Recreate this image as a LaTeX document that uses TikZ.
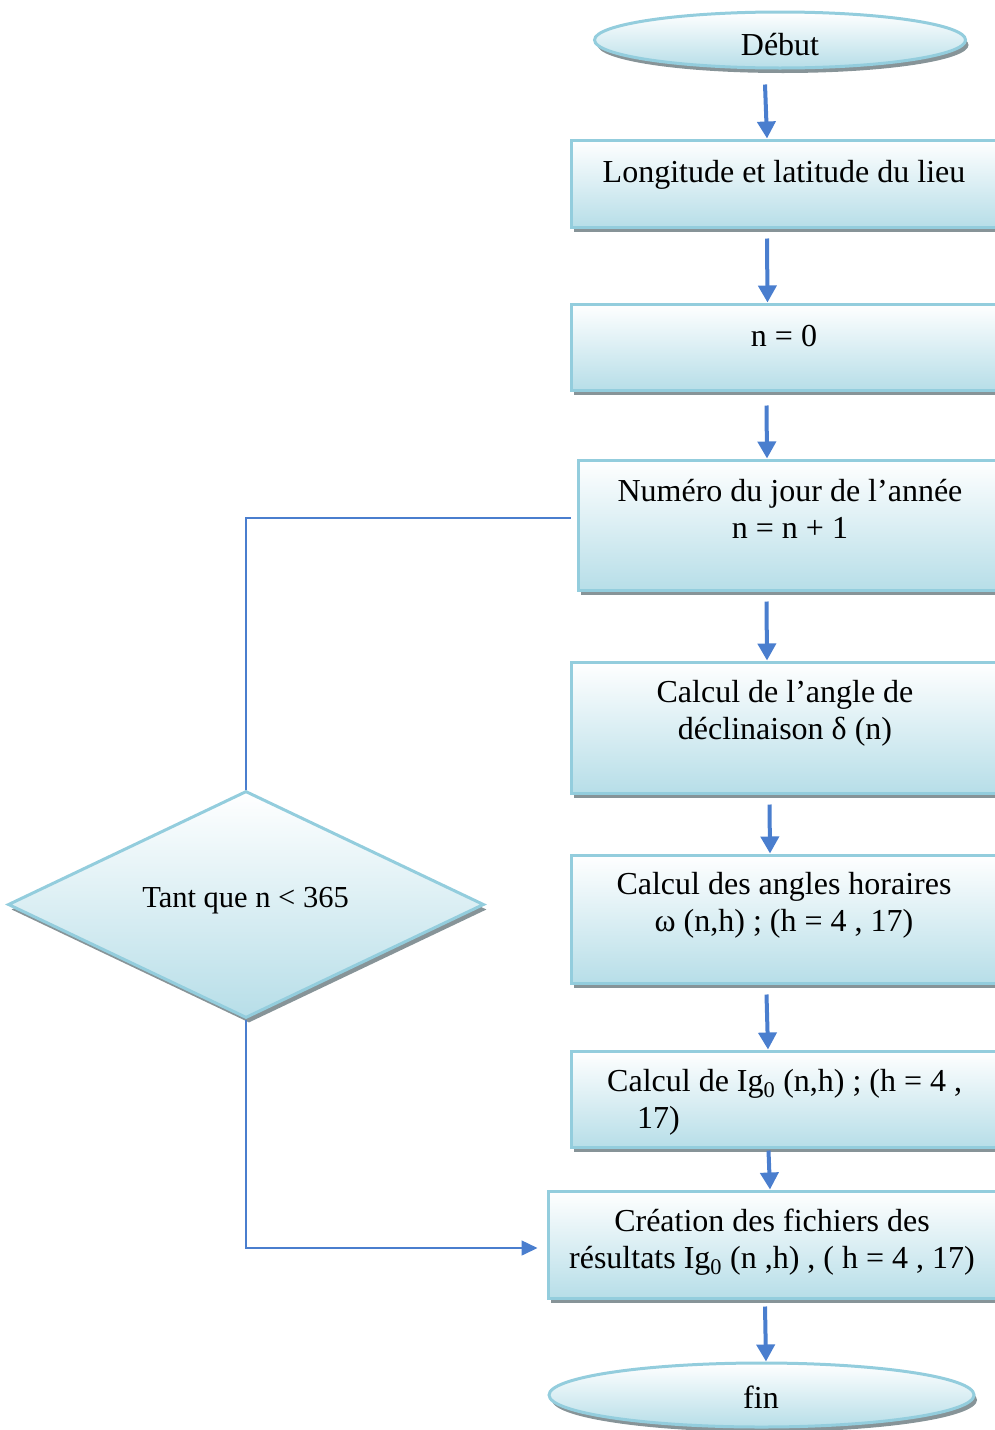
\documentclass[tikz,border=0pt]{standalone}
\usepackage{fontspec}
\setmainfont{Liberation Serif}
\usetikzlibrary{shapes.geometric,arrows.meta,shadows,calc}
\definecolor{bord}{RGB}{147,205,221}
\definecolor{fillb}{RGB}{183,222,232}
\definecolor{arr}{RGB}{74,126,206}
\definecolor{shad}{RGB}{135,148,152}
\begin{document}
\begin{tikzpicture}[x=1pt,y=-1pt,
  shapebase/.style={draw=bord, line width=3pt, top color=white, bottom color=fillb,
    drop shadow={shadow xshift=3pt, shadow yshift=-5pt, fill=shad, opacity=1}},
  procbox/.style={shapebase, rectangle, inner sep=0pt},
  term/.style={shapebase, ellipse, inner sep=0pt},
  decision/.style={shapebase, diamond, inner sep=0pt},
  txt/.style={font=\fontsize{32}{37}\selectfont, inner sep=0pt, align=center},
  flow/.style={draw=arr, line width=4pt, -{Triangle[length=17pt,width=18pt]}},
  loopline/.style={draw=arr, line width=1.5pt},
]
\useasboundingbox (0,0) rectangle (995,1430);
\clip (0,0) rectangle (995,1430);

% shapes
\node[term, minimum width=371pt, minimum height=56pt] (start) at (780,40) {};
\node[procbox, minimum width=425pt, minimum height=87pt] (b1) at (783.5,183.5) {};
\node[procbox, minimum width=425pt, minimum height=86pt] (b2) at (783.5,347) {};
\node[procbox, minimum width=418pt, minimum height=130pt] (b3) at (787,525) {};
\node[procbox, minimum width=425pt, minimum height=131pt] (b4) at (783.5,727.5) {};
\node[procbox, minimum width=425pt, minimum height=128pt] (b5) at (783.5,919) {};
\node[procbox, minimum width=425pt, minimum height=96pt] (b6) at (783.5,1099) {};
\node[procbox, minimum width=448pt, minimum height=107pt] (b7) at (772,1244.5) {};
\node[term, minimum width=425pt, minimum height=64pt] (fin) at (761.5,1395) {};
\node[decision, minimum width=476pt, minimum height=227pt] (d) at (246,904.5) {};

% texts (anchor=base is the baseline of the last line)
\node[txt, anchor=base] (t0) at (780,55) {Début};
\node[txt, anchor=base] (t1) at (784,182) {Longitude et latitude du lieu};
\node[txt, anchor=base] (t2) at (784,346) {n = 0};
\node[txt, anchor=base] (t3) at (790,538) {Numéro du jour de l’année\\n = n + 1};
\node[txt, anchor=base] (t4) at (785,739) {Calcul de l’angle de\\déclinaison δ (n)};
\node[txt, anchor=base] (t5) at (784,931) {Calcul des angles horaires\\ω (n,h) ; (h = 4 , 17)};
\node[txt, anchor=base west, align=left] (t6) at (607,1128) {Calcul de Ig\textsubscript{0} (n,h) ; (h = 4 ,\\\hspace*{30pt}17)};
\node[txt, anchor=base] (t7) at (772,1268) {Création des fichiers des\\résultats Ig\textsubscript{0} (n ,h) , ( h = 4 , 17)};
\node[txt, anchor=base] (t8) at (761,1408) {fin};
\node[txt, anchor=base, font=\fontsize{30.5}{36}\selectfont] (t9) at (245.5,907) {Tant que n < 365};

% main flow
\draw[flow] ($(start.south)+(-15,15)$) -- ($(b1.north)+(-16.5,0)$);
\draw[flow] ($(b1.south)+(-16.5,10)$) -- ($(b2.north)+(-16,0)$);
\draw[flow] ($(b2.south)+(-17,14)$) -- ($(b3.north)+(-20,0)$);
\draw[flow] ($(b3.south)+(-20.5,10)$) -- ($(b4.north)+(-16.5,0)$);
\draw[flow] ($(b4.south)+(-14,10)$) -- ($(b5.north)+(-13.5,0)$);
\draw[flow] ($(b5.south)+(-17,10)$) -- ($(b6.north)+(-15.5,0)$);
\draw[flow] ($(b6.south)+(-15,2)$) -- ($(b7.north)+(-2,0)$);
\draw[flow] ($(b7.south)+(-7,7)$) -- ($(fin.north)+(4.5,0)$);

% loop
\draw[loopline] (d.north) |- ([xshift=-6pt,yshift=7pt]b3.west);
\draw[loopline, -{Triangle[length=16pt,width=15pt]}] (d.south) |- ([xshift=-9pt,yshift=-3.5pt]b7.west);
\end{tikzpicture}
\end{document}
